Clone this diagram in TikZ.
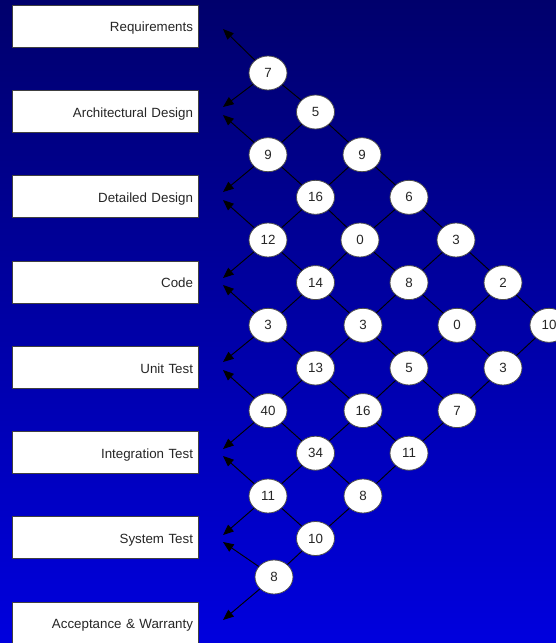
\documentclass[tikz,border=0pt]{standalone}
\usepackage{fontspec}
\setmainfont{Liberation Sans}
\usetikzlibrary{shapes.geometric,arrows.meta}
\begin{document}
\begin{tikzpicture}[x=0.75pt,y=-0.75pt,
  phase/.style={draw=black!75,line width=0.6pt,fill=white,minimum width=139.5pt,minimum height=31.5pt,
    text width=132pt,align=right,inner xsep=3.75pt,inner ysep=0pt,text height=8.8pt,text depth=0pt,
    font=\fontsize{10}{12}\selectfont,text=black!85},
  num/.style={ellipse,draw=black!70,line width=0.6pt,fill=white,minimum width=28.5pt,minimum height=25.5pt,
    inner sep=0pt,font=\fontsize{10}{12}\selectfont,text=black!85},
  link/.style={draw=black,line width=0.7pt},
  fb/.style={link,-{Triangle[length=8pt,width=6.5pt]}}]
\useasboundingbox (0,0) rectangle (556,643);
\shade[top color={rgb,255:red,0;green,0;blue,108},bottom color={rgb,255:red,0;green,0;blue,222}] (0,0) rectangle (556,643);
% phase boxes
\node[phase] (req) at (105,26) {Requirements};
\node[phase] (arch) at (105,111.3) {Architectural Design};
\node[phase] (det) at (105,196.6) {Detailed Design};
\node[phase] (code) at (105,281.9) {Code};
\node[phase] (unit) at (105,367.2) {Unit Test};
\node[phase] (int) at (105,452.5) {Integration Test};
\node[phase] (sys) at (105,537.8) {System Test};
\node[phase] (acc) at (105,623.1) {Acceptance \& Warranty};
% arrow tips
\coordinate (treq) at (223,29);
\coordinate (tarcha) at (223,107);
\coordinate (tarchb) at (223,115);
\coordinate (tdeta) at (223,192);
\coordinate (tdetb) at (223,200);
\coordinate (tcodea) at (223,278);
\coordinate (tcodeb) at (223,285);
\coordinate (tunita) at (223,362);
\coordinate (tunitb) at (223,370);
\coordinate (tinta) at (223,449);
\coordinate (tintb) at (223,456);
\coordinate (tsysa) at (223,535);
\coordinate (tsysb) at (223,542);
\coordinate (tacc) at (223,620);
% number nodes
\node[num] (n7) at (268,73) {7};
\node[num] (n5) at (315.5,112) {5};
\node[num] (n9a) at (268,154.7) {9};
\node[num] (n9b) at (362,154.7) {9};
\node[num] (n16a) at (315.5,197.3) {16};
\node[num] (n6) at (409,197.3) {6};
\node[num] (n12) at (268,240) {12};
\node[num] (n0a) at (360,240) {0};
\node[num] (n3a) at (456,240) {3};
\node[num] (n14) at (315.5,282.6) {14};
\node[num] (n8a) at (409,282.6) {8};
\node[num] (n2) at (503,282.6) {2};
\node[num] (n3b) at (268,325.3) {3};
\node[num] (n3c) at (363,325.3) {3};
\node[num] (n0b) at (457,325.3) {0};
\node[num] (n10a) at (549,325.3) {10};
\node[num] (n13) at (315.5,368) {13};
\node[num] (n5b) at (409,368) {5};
\node[num] (n3d) at (503,368) {3};
\node[num] (n40) at (268,410.6) {40};
\node[num] (n16b) at (363,410.6) {16};
\node[num] (n7b) at (457,410.6) {7};
\node[num] (n34) at (315.5,453.2) {34};
\node[num] (n11a) at (409,453.2) {11};
\node[num] (n11b) at (268,496) {11};
\node[num] (n8b) at (363,496) {8};
\node[num] (n10b) at (315.5,538.5) {10};
\node[num] (n8c) at (274,577) {8};
% links between numbers
\draw[link] (n7) -- (n5);
\draw[link] (n5) -- (n9a);
\draw[link] (n5) -- (n9b);
\draw[link] (n9a) -- (n16a);
\draw[link] (n9b) -- (n16a);
\draw[link] (n9b) -- (n6);
\draw[link] (n16a) -- (n12);
\draw[link] (n16a) -- (n0a);
\draw[link] (n6) -- (n0a);
\draw[link] (n6) -- (n3a);
\draw[link] (n12) -- (n14);
\draw[link] (n0a) -- (n14);
\draw[link] (n0a) -- (n8a);
\draw[link] (n3a) -- (n8a);
\draw[link] (n3a) -- (n2);
\draw[link] (n14) -- (n3b);
\draw[link] (n14) -- (n3c);
\draw[link] (n8a) -- (n3c);
\draw[link] (n8a) -- (n0b);
\draw[link] (n2) -- (n0b);
\draw[link] (n2) -- (n10a);
\draw[link] (n3b) -- (n13);
\draw[link] (n3c) -- (n13);
\draw[link] (n3c) -- (n5b);
\draw[link] (n0b) -- (n5b);
\draw[link] (n0b) -- (n3d);
\draw[link] (n10a) -- (n3d);
\draw[link] (n13) -- (n40);
\draw[link] (n13) -- (n16b);
\draw[link] (n5b) -- (n16b);
\draw[link] (n5b) -- (n7b);
\draw[link] (n3d) -- (n7b);
\draw[link] (n40) -- (n34);
\draw[link] (n16b) -- (n34);
\draw[link] (n16b) -- (n11a);
\draw[link] (n7b) -- (n11a);
\draw[link] (n34) -- (n11b);
\draw[link] (n34) -- (n8b);
\draw[link] (n11a) -- (n8b);
\draw[link] (n11b) -- (n10b);
\draw[link] (n8b) -- (n10b);
\draw[link] (n10b) -- (n8c);
% feedback arrows to phases
\draw[fb] (n7) -- (treq);
\draw[fb] (n7) -- (tarcha);
\draw[fb] (n9a) -- (tarchb);
\draw[fb] (n9a) -- (tdeta);
\draw[fb] (n12) -- (tdetb);
\draw[fb] (n12) -- (tcodea);
\draw[fb] (n3b) -- (tcodeb);
\draw[fb] (n3b) -- (tunita);
\draw[fb] (n40) -- (tunitb);
\draw[fb] (n40) -- (tinta);
\draw[fb] (n11b) -- (tintb);
\draw[fb] (n11b) -- (tsysa);
\draw[fb] (n8c) -- (tsysb);
\draw[fb] (n8c) -- (tacc);
\end{tikzpicture}
\end{document}
